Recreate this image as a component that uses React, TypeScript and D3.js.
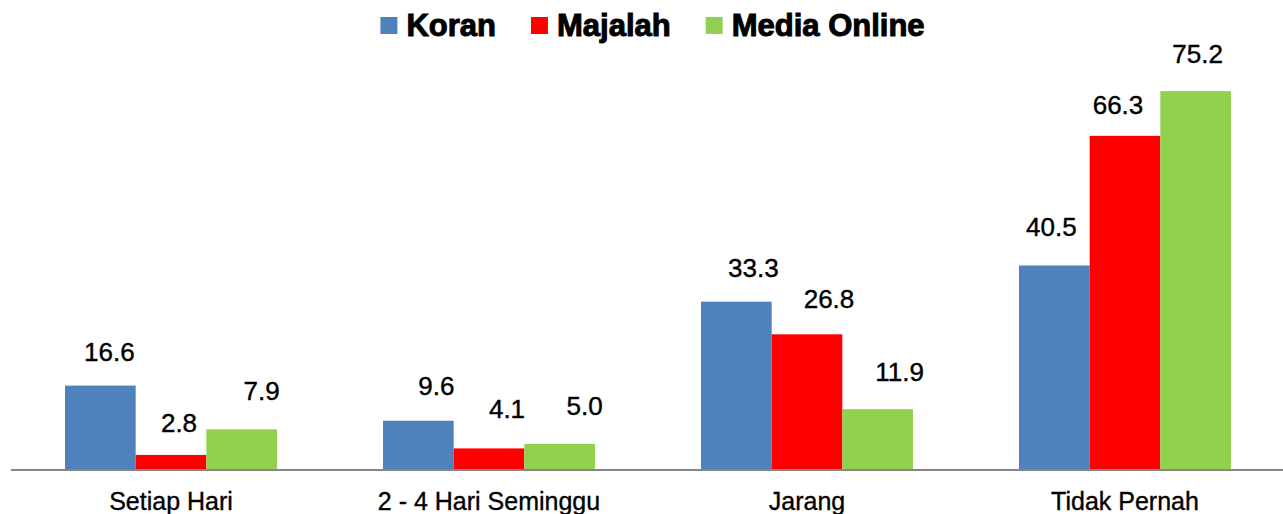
import React, { useEffect, useRef } from "react";
import * as d3 from "d3";

const categories = ["Setiap Hari", "2 - 4 Hari Seminggu", "Jarang", "Tidak Pernah"];
const seriesNames = ["Koran", "Majalah", "Media Online"];
const koran = [16.6, 9.6, 33.3, 40.5];
const majalah = [2.8, 4.1, 26.8, 66.3];
const mediaOnline = [7.9, 5.0, 11.9, 75.2];
const seriesValues = [koran, majalah, mediaOnline];
const colors = ["#4F81BD", "#FF0000", "#92D050"];

// label nudges (dx from bar centre, dy from bar top to text baseline)
const labelDx = [
  [9, 18, 17, -3],
  [8, 18, 22, -7],
  [20, 25, 22, 2],
];
const labelDy = [
  [-25, -26, -25, -29],
  [-23, -30, -26, -22],
  [-29, -29, -28, -28],
];

const W = 1283;
const H = 514;

export default function App() {
  const ref = useRef<SVGSVGElement>(null);

  useEffect(() => {
    const svg = d3.select(ref.current);
    svg.selectAll("*").remove();

    const x0 = d3.scaleBand<string>().domain(categories).range([12, 1284]).paddingInner(1 / 3).paddingOuter(1 / 6);
    const x1 = d3.scaleBand<string>().domain(seriesNames).range([0, x0.bandwidth()]);
    const y = d3.scaleLinear().domain([0, 80]).range([469, 67]);

    const rows = seriesNames.flatMap((s, si) =>
      categories.map((c, ci) => ({ s, si, c, ci, v: seriesValues[si][ci] }))
    );

    svg
      .append("g")
      .selectAll("rect")
      .data(rows)
      .join("rect")
      .attr("x", (d) => (x0(d.c) as number) + (x1(d.s) as number))
      .attr("y", (d) => y(d.v))
      .attr("width", x1.bandwidth())
      .attr("height", (d) => y(0) - y(d.v))
      .attr("fill", (d) => colors[d.si]);

    // axis baseline
    svg
      .append("line")
      .attr("x1", 11)
      .attr("x2", W)
      .attr("y1", y(0) + 1)
      .attr("y2", y(0) + 1)
      .attr("stroke", "#868686")
      .attr("stroke-width", 2);

    // value labels
    svg
      .append("g")
      .selectAll("text")
      .data(rows)
      .join("text")
      .attr("x", (d) => (x0(d.c) as number) + (x1(d.s) as number) + x1.bandwidth() / 2 + labelDx[d.si][d.ci])
      .attr("y", (d) => y(d.v) + labelDy[d.si][d.ci])
      .attr("text-anchor", "middle")
      .attr("font-family", "'Liberation Sans', Arial, sans-serif")
      .attr("font-size", 26)
      .attr("fill", "#000")
      .attr("stroke", "#000")
      .attr("stroke-width", 0.4)
      .text((d) => d.v.toFixed(1));

    // category labels
    svg
      .append("g")
      .selectAll("text")
      .data(categories)
      .join("text")
      .attr("x", (d) => (x0(d) as number) + x0.bandwidth() / 2)
      .attr("y", 510)
      .attr("text-anchor", "middle")
      .attr("font-family", "'Liberation Sans', Arial, sans-serif")
      .attr("font-size", 25)
      .attr("fill", "#000")
      .attr("stroke", "#000")
      .attr("stroke-width", 0.35)
      .text((d) => d);

    // legend
    const lg = svg.append("g");
    const items = lg
      .selectAll("g")
      .data(seriesNames)
      .join("g");
    items
      .append("rect")
      .attr("width", 17)
      .attr("height", 17)
      .attr("y", 17)
      .attr("fill", (_, i) => colors[i]);
    const texts = items
      .append("text")
      .attr("x", 26)
      .attr("y", 35.5)
      .attr("font-family", "'Liberation Sans', Arial, sans-serif")
      .attr("font-weight", "bold")
      .attr("font-size", 31)
      .attr("fill", "#000")
      .attr("stroke", "#000")
      .attr("stroke-width", 1)
      .text((d) => d);
    const widths: number[] = [];
    texts.each(function () {
      widths.push((this as SVGTextElement).getComputedTextLength());
    });
    let cx = 0;
    const offs: number[] = [];
    widths.forEach((w) => {
      offs.push(cx);
      cx += 26 + w + 35;
    });
    const total = cx - 35;
    const start = 652.5 - total / 2;
    items.attr("transform", (_, i) => `translate(${start + offs[i]},0)`);
  }, []);

  return (
    <svg
      ref={ref}
      width={W}
      height={H}
      style={{ position: "absolute", left: 0, top: 0, background: "#fff" }}
    />
  );
}
